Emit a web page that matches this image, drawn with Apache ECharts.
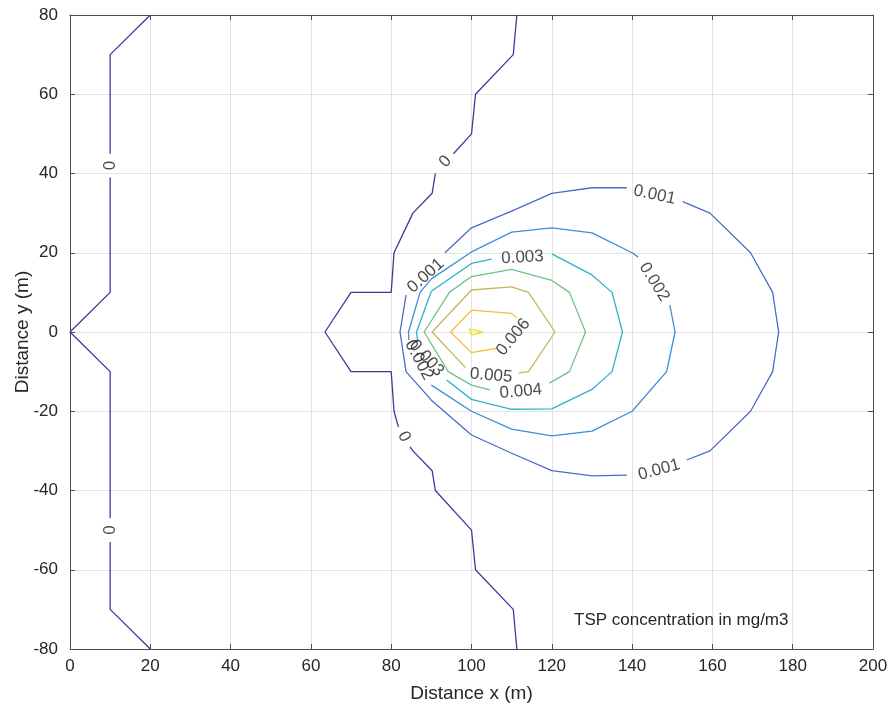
<!DOCTYPE html>
<html>
<head>
<meta charset="utf-8">
<script src="https://cdn.jsdelivr.net/npm/echarts@6/dist/echarts.min.js"></script>
<style>
  html, body { margin: 0; padding: 0; background: #fff; }
  #chart { width: 890px; height: 711px; }
</style>
</head>
<body>
<div id="chart"></div>
<script type="text/javascript">
    // contour levels and their line colours (parula-like)
    var levels = ['0', '0.001', '0.002', '0.003', '0.004', '0.005', '0.006', '0.007'];
    var levelColors = ['#45369c', '#4a6cc7', '#3b8ed8', '#2eb1c9', '#6cc387', '#c4b85a', '#fbbd3c', '#f2e31e'];

    // contour pieces, [x (m), y (m)]; the gaps are where the labels sit
    var level0 = [
        [[20, 80], [10, 70], [10, 45]],
        [[10, 39], [10, 10], [0, 0], [10, -10], [10, -47]],
        [[10, -53], [10, -70], [20, -80]],
        [[111.3, 80], [110.4, 70], [101, 60], [100, 50], [95.5, 45]],
        [[91, 40], [90.2, 35], [85.4, 30], [80.7, 20], [80, 10], [70, 10], [63.5, 0], [70, -10], [80, -10], [80.7, -20], [81.8, -24]],
        [[84.7, -29], [85.4, -30], [90.2, -35], [91, -40], [100, -50], [101, -60], [110.4, -70], [111.3, -80]]
    ];
    var level1 = [
        [[93.4, 20], [100, 26.3], [110, 30.5], [120, 35], [130, 36.4], [138.7, 36.4]],
        [[152.6, 32.9], [159.4, 30], [169.5, 20], [175, 10], [176.5, 0], [175, -10], [169.5, -20], [159.4, -30], [153.6, -32.3]],
        [[138.7, -36.1], [130, -36.3], [120, -35], [110, -30.6], [100, -26], [90, -17.2], [83.7, -10], [82.2, 0], [83.7, 9.3]]
    ];
    var level2 = [
        [[149.4, 6.8], [150.7, 0], [148.6, -10], [140, -20], [130, -25], [120, -26.2], [110, -24.5], [100, -20], [90, -13.4]],
        [[84.4, -2], [84.3, 0], [87.2, 10], [90, 13.4], [100, 20.2], [110, 25.2], [120, 26.3], [130, 25], [140, 20], [141.5, 18.9]]
    ];
    var level3 = [
        [[120, 19.7], [130, 14.4], [135, 10], [137.6, 0], [135, -10], [130, -14.5], [120, -19.4], [110, -19.5], [100, -17], [93.8, -12.1]],
        [[86.6, -2.5], [86.3, 0], [90, 10.3], [100, 17.3], [105, 18.4]]
    ];
    var level4 = [
        [[119.4, -12.9], [124.4, -10], [128.4, 0], [124.4, 10], [120, 13], [110, 15.8], [100, 14], [94.5, 10], [88.2, 0], [94.2, -10], [100, -13.4], [104.6, -14.6]]
    ];
    var level5 = [
        [[111.7, -10.4], [114.2, -10], [120.8, 0], [114.2, 10], [110, 11.4], [100, 10.6], [90.2, 0], [98.5, -9]]
    ];
    var level6 = [
        [[111.3, 3.5], [110, 4.7], [100, 5.5], [94.8, 0], [100, -5.2], [106.3, -4.1]]
    ];
    var level7 = [
        [[99.4, 0.8], [102.9, 0], [100, -0.8], [99.4, 0.8]]
    ];
    var contours = [level0, level1, level2, level3, level4, level5, level6, level7];

    // in-line contour labels [x, y, text] and their angles
    var contourLabels = [
        [10, 42, '0'], [10, -50, '0'], [93.5, 43, '0'], [83.2, -26.4, '0'],
        [88.6, 14.2, '0.001'], [145.6, 34.6, '0.001'], [146.7, -34.8, '0.001'],
        [145.5, 12.6, '0.002'], [86.9, -7.1, '0.002'],
        [112.7, 18.8, '0.003'], [88.8, -6.6, '0.003'],
        [112.3, -15, '0.004'], [104.9, -11, '0.005'], [110.4, -1.3, '0.006']
    ];
    var labelAngles = [90, 90, 48, -64, 42, -12, 15, -58, -62, 3, -48, 5, -5, 50];

    var note = 'TSP concentration in mg/m3';

    var FONT = '"Liberation Sans", Arial, Helvetica, sans-serif';
    var TXT = '#262626';

    var series = [];
    contours.forEach(function (pieces, li) {
        pieces.forEach(function (piece) {
            series.push({
                name: levels[li],
                type: 'line',
                data: piece,
                symbol: 'none',
                smooth: false,
                silent: true,
                lineStyle: { color: levelColors[li], width: 1.3 },
                z: 2
            });
        });
    });

    series.push({
        type: 'scatter',
        symbolSize: 0,
        silent: true,
        z: 5,
        data: contourLabels.map(function (d, i) {
            return {
                value: [d[0], d[1]],
                label: {
                    show: true,
                    position: 'inside',
                    formatter: d[2],
                    rotate: labelAngles[i],
                    color: '#1a1a1a',
                    fontFamily: FONT,
                    fontSize: 17
                }
            };
        })
    });

    var myChart = echarts.init(document.getElementById('chart'), null, { renderer: 'canvas' });

    var axisLineStyle = { color: '#4d4d4d', width: 1 };
    var option = {
        animation: false,
        backgroundColor: '#ffffff',
        grid: { left: 70, right: 17, top: 15, bottom: 62, containLabel: false, outerBoundsMode: 'none' },
        xAxis: [{
            type: 'value',
            min: 0, max: 200, interval: 20,
            name: 'Distance x (m)',
            nameLocation: 'middle',
            nameGap: 35,
            nameTextStyle: { color: TXT, fontFamily: FONT, fontSize: 19 },
            axisLine: { show: true, onZero: false, lineStyle: axisLineStyle },
            axisTick: { show: true, inside: true, length: 5, lineStyle: axisLineStyle },
            axisLabel: { color: TXT, fontFamily: FONT, fontSize: 17, margin: 9 },
            splitLine: { show: true, lineStyle: { color: '#e3e3e3', width: 1 } }
        }, {
            type: 'value', position: 'top',
            min: 0, max: 200, interval: 20,
            axisLine: { show: true, onZero: false, lineStyle: axisLineStyle },
            axisTick: { show: true, inside: true, length: 5, lineStyle: axisLineStyle },
            axisLabel: { show: false },
            splitLine: { show: false }
        }],
        yAxis: [{
            type: 'value',
            min: -80, max: 80, interval: 20,
            name: 'Distance y (m)',
            nameLocation: 'middle',
            nameGap: 38,
            nameMoveOverlap: false,
            nameTextStyle: { color: TXT, fontFamily: FONT, fontSize: 19 },
            axisLine: { show: true, onZero: false, lineStyle: axisLineStyle },
            axisTick: { show: true, inside: true, length: 5, lineStyle: axisLineStyle },
            axisLabel: { color: TXT, fontFamily: FONT, fontSize: 17, margin: 12 },
            splitLine: { show: true, lineStyle: { color: '#e3e3e3', width: 1 } }
        }, {
            type: 'value', position: 'right',
            min: -80, max: 80, interval: 20,
            axisLine: { show: true, onZero: false, lineStyle: axisLineStyle },
            axisTick: { show: true, inside: true, length: 5, lineStyle: axisLineStyle },
            axisLabel: { show: false },
            splitLine: { show: false }
        }],
        graphic: [{
            type: 'text',
            left: 574,
            top: 612,
            z: 10,
            style: { text: note, fill: TXT, font: '17px ' + FONT }
        }],
        series: series
    };

    myChart.setOption(option);
</script>
</body>
</html>
